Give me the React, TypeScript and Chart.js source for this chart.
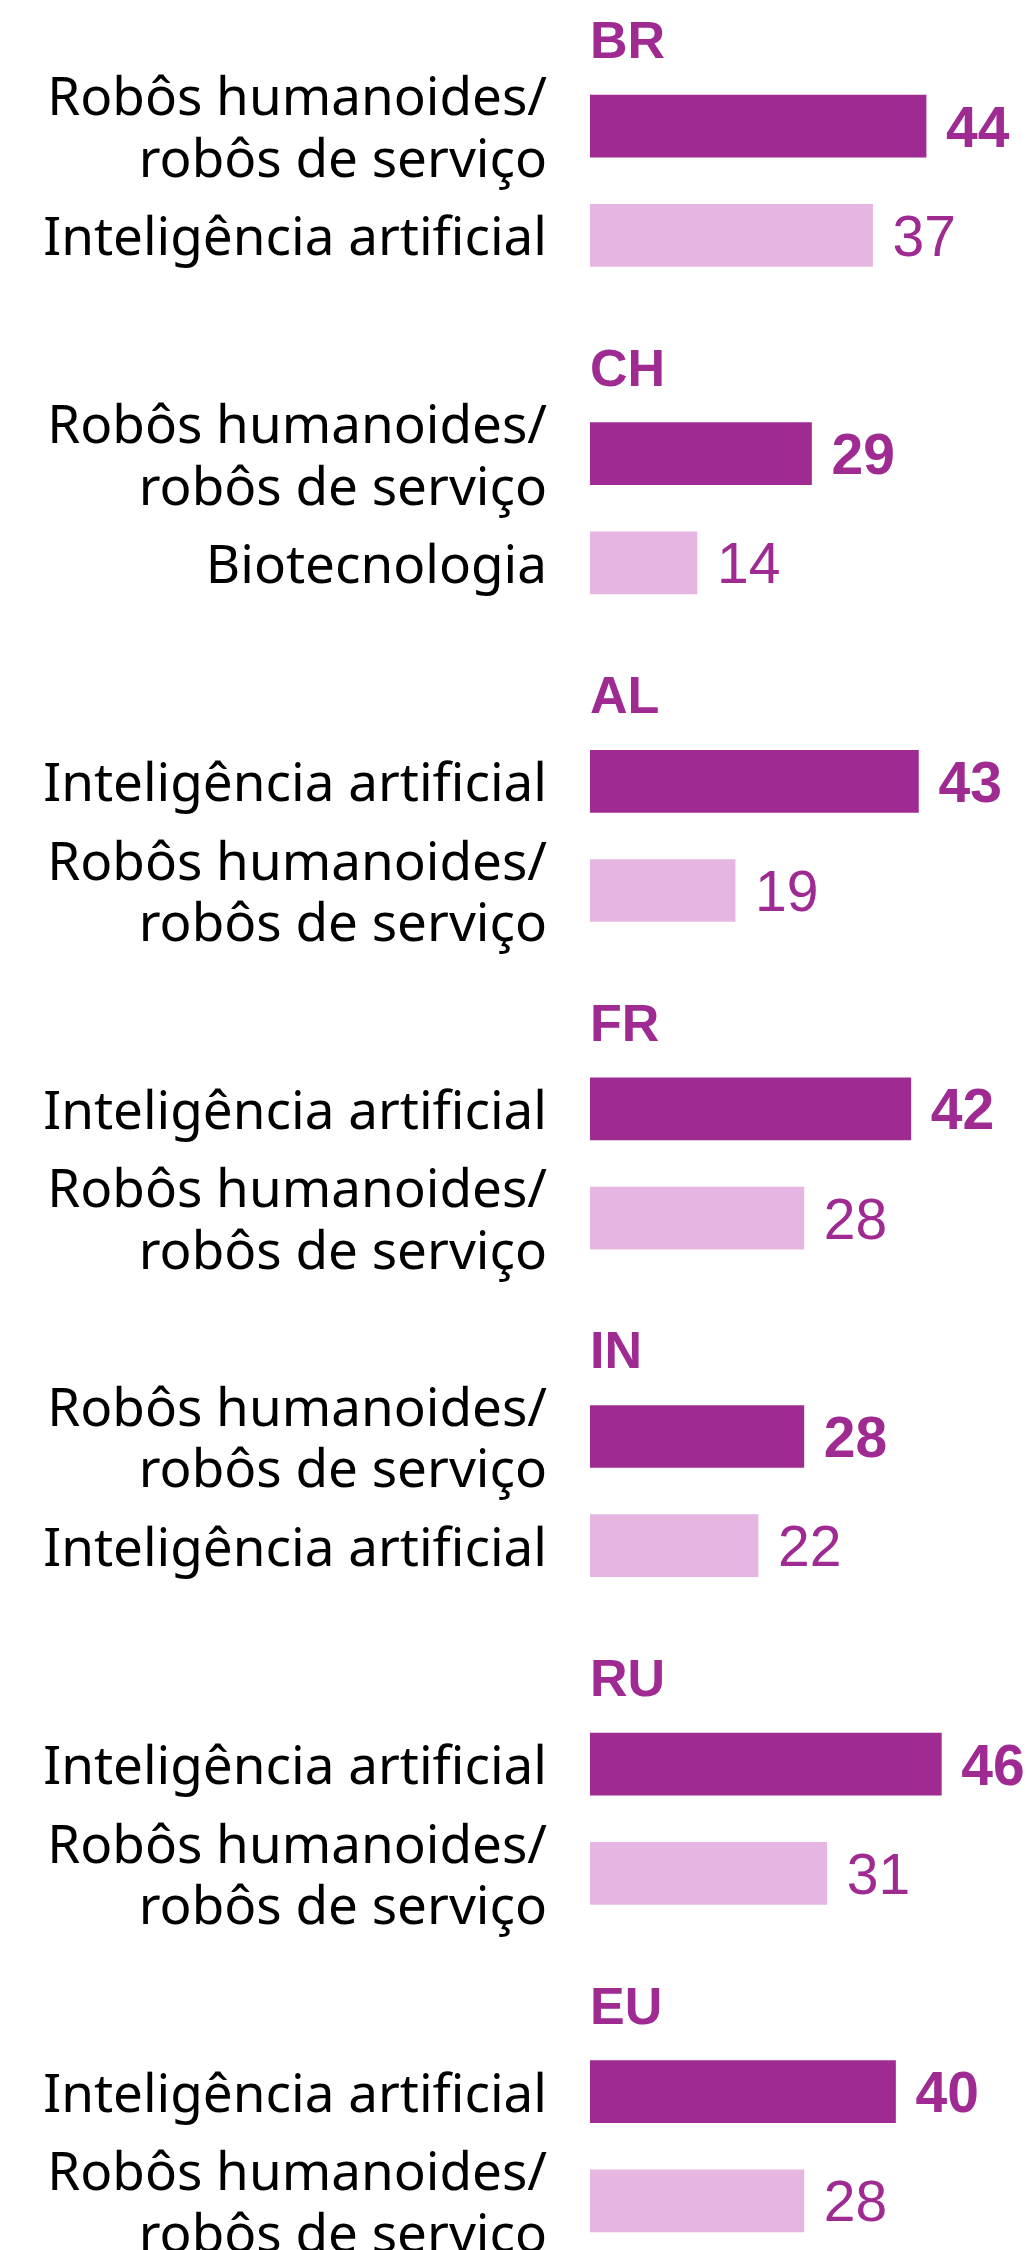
import React, { useEffect, useRef } from 'react';
import { Chart, registerables } from 'chart.js';

Chart.register(...registerables);

// ---- data ----
const countries = ['BR', 'CH', 'AL', 'FR', 'IN', 'RU', 'EU'];

const ROBOTS = ['Robôs humanoides/', 'robôs de serviço'];
const AI = ['Inteligência artificial'];
const BIO = ['Biotecnologia'];

const topCategories = [ROBOTS, ROBOTS, AI, AI, ROBOTS, AI, AI];
const topValues = [44, 29, 43, 42, 28, 46, 40];
const secondCategories = [AI, BIO, ROBOTS, ROBOTS, AI, ROBOTS, ROBOTS];
const secondValues = [37, 14, 19, 28, 22, 31, 28];

// ---- styles ----
const DARK = '#9e2a92';
const LIGHT = '#e6b5e1';
const W = 1035;
const H = 2270;

// ---- rows built from data ----
const rowLabels: string[][] = [];
const rowValues: (number | null)[] = [];
const rowColors: string[] = [];
const rowBold: boolean[] = [];
const topRowIndex: number[] = [];
countries.forEach((_, g) => {
  topRowIndex.push(rowLabels.length);
  rowLabels.push(topCategories[g]);
  rowValues.push(topValues[g]);
  rowColors.push(DARK);
  rowBold.push(true);
  rowLabels.push(secondCategories[g]);
  rowValues.push(secondValues[g]);
  rowColors.push(LIGHT);
  rowBold.push(false);
  if (g < countries.length - 1) {
    rowLabels.push(['']);
    rowValues.push(null);
    rowColors.push('rgba(0,0,0,0)');
    rowBold.push(false);
  }
});

const annotatePlugin = {
  id: 'annotate',
  afterDatasetsDraw(chart: any) {
    const ctx = chart.ctx;
    const meta = chart.getDatasetMeta(0);
    const yScale = chart.scales.y;
    const row = yScale.getPixelForTick(1) - yScale.getPixelForTick(0);
    ctx.save();
    ctx.fillStyle = DARK;
    ctx.textAlign = 'left';
    ctx.textBaseline = 'alphabetic';
    meta.data.forEach((bar: any, i: number) => {
      const v = rowValues[i];
      if (v == null) return;
      ctx.font = `${rowBold[i] ? 'bold ' : ''}57px "Liberation Sans", Arial, sans-serif`;
      ctx.fillText(String(v), bar.x + 20, bar.y + 20.5);
    });
    ctx.font = 'bold 52px "Liberation Sans", Arial, sans-serif';
    countries.forEach((c, g) => {
      const bar = meta.data[topRowIndex[g]];
      ctx.fillText(c, chart.chartArea.left, bar.y - row * 0.623);
    });
    ctx.restore();
  },
};

export default function App() {
  const ref = useRef<HTMLCanvasElement | null>(null);

  useEffect(() => {
    document.body.style.margin = '0';
    document.body.style.overflow = 'hidden';
    document.documentElement.style.overflow = 'hidden';
    if (!ref.current) return;
    const chart = new Chart(ref.current, {
      type: 'bar',
      data: {
        labels: rowLabels,
        datasets: [
          {
            data: rowValues,
            backgroundColor: rowColors,
            barThickness: 62,
            borderWidth: 0,
          },
        ],
      },
      options: {
        indexAxis: 'y',
        responsive: false,
        animation: false,
        layout: { padding: { top: 71.5, right: 2, bottom: H - 2255.5, left: 0 } },
        plugins: { legend: { display: false }, tooltip: { enabled: false } },
        scales: {
          x: { min: 0, max: 58, display: false },
          y: {
            grid: { display: false, drawTicks: false },
            border: { display: false },
            ticks: {
              autoSkip: false,
              padding: 43,
              labelOffset: 5,
              color: '#000000',
              font: { family: '"Noto Sans", sans-serif', size: 53, lineHeight: 1.16 },
            },
            afterFit(scale: any) {
              scale.width = 590;
              scale.paddingTop = 0;
              scale.paddingBottom = 0;
            },
          },
        },
      },
      plugins: [annotatePlugin],
    } as any);
    return () => chart.destroy();
  }, []);

  return (
    <div style={{ width: W, height: H }}>
      <canvas ref={ref} width={W} height={H} style={{ display: 'block' }} />
    </div>
  );
}
